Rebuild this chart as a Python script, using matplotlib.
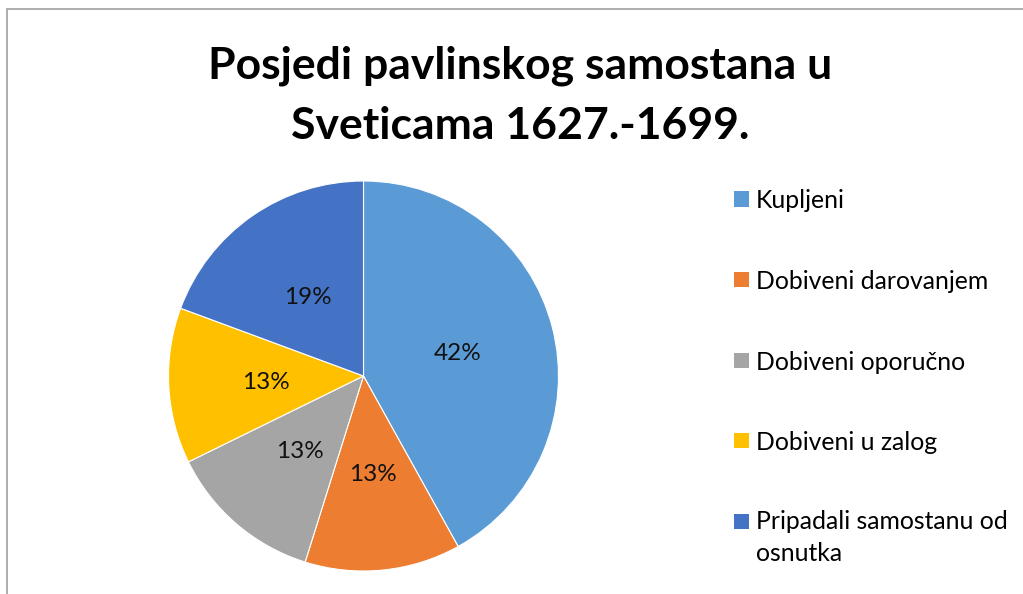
import textwrap
import matplotlib
matplotlib.use("Agg")
import matplotlib.pyplot as plt
from matplotlib.patches import Rectangle

title = "Posjedi pavlinskog samostana u\nSveticama 1627.-1699."
categories = ["Kupljeni", "Dobiveni darovanjem", "Dobiveni oporučno",
              "Dobiveni u zalog", "Pripadali samostanu od osnutka"]
values = [13, 4, 4, 4, 6]
colors = ["#5B9BD5", "#ED7D31", "#A5A5A5", "#FFC000", "#4472C4"]

W, H = 1023, 594
fig = plt.figure(figsize=(W / 100, H / 100), dpi=100)
fig.patch.set_facecolor("white")

# chart border
fig.patches.append(Rectangle((7 / W, -0.1), 1.2, (H - 9) / H + 0.1,
                             transform=fig.transFigure, fill=False,
                             edgecolor="#A0A0A0", linewidth=1.2))

FONT = "Lato"

# pie
cx, cy, r = 363.5, H - 376, 195
ax = fig.add_axes([(cx - r) / W, (cy - r) / H, 2 * r / W, 2 * r / H])
wedges, texts, autotexts = ax.pie(
    values, colors=colors, startangle=90, counterclock=False,
    autopct=lambda p: f"{p:.0f}%", pctdistance=0.5,
    wedgeprops=dict(edgecolor="white", linewidth=0.8),
    textprops=dict(fontsize=17.5, family=FONT, color="#111111"))
for t in autotexts:
    t.set_va("center_baseline")
ax.set_xlim(-1, 1)
ax.set_ylim(-1, 1)
ax.set_aspect("equal")
ax.axis("off")

# title
fig.text(520 / W, 1 - 45 / H, title, ha="center", va="top",
         fontsize=32, fontweight="bold", family=FONT, linespacing=1.62,
         color="black")

# legend
y0 = 199
step = 80.5
for i, (lab, col) in enumerate(zip(categories, colors)):
    yc = y0 + i * step
    fig.patches.append(Rectangle((734 / W, 1 - (yc + 7.5) / H), 15 / W, 15 / H,
                                 transform=fig.transFigure, facecolor=col,
                                 edgecolor="none"))
    txt = textwrap.fill(lab, 23)
    if "\n" in txt:
        fig.text(756 / W, 1 - (yc - 11) / H, txt, ha="left", va="top",
                 fontsize=17.8, family=FONT, linespacing=1.45, color="black")
    else:
        fig.text(756 / W, 1 - yc / H, txt, ha="left", va="center_baseline",
                 fontsize=17.8, family=FONT, color="black")

fig.savefig("out.png", dpi=100)
